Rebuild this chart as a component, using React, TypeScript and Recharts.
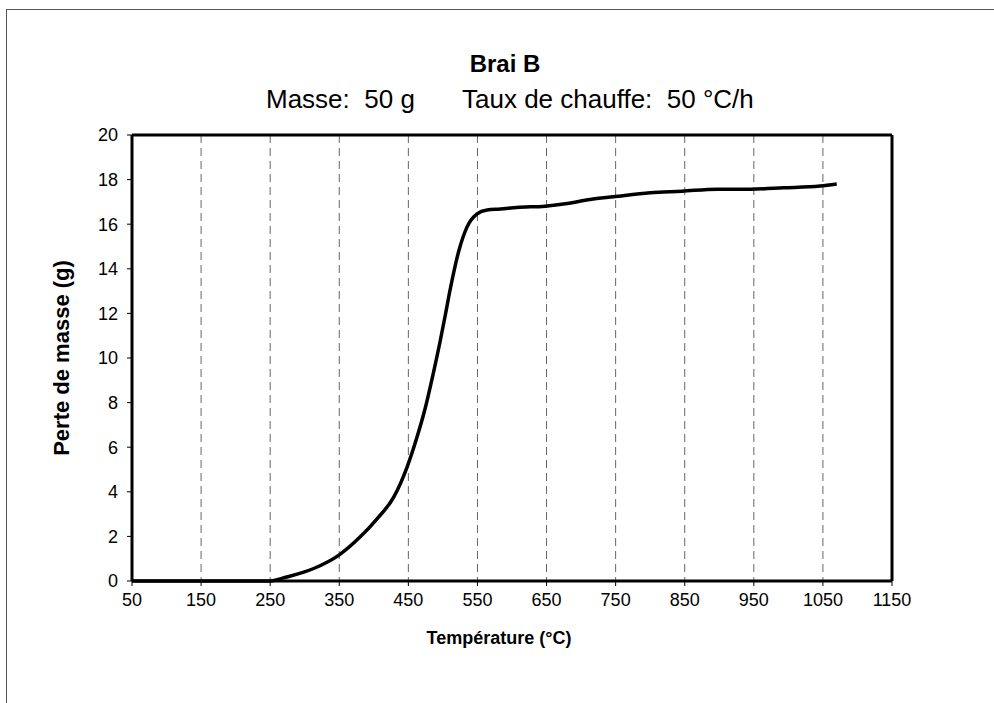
import { CartesianGrid, Line, LineChart, ReferenceLine, XAxis, YAxis } from "recharts";

// Température (°C) et perte de masse (g)
const TEMPERATURE = [
  50, 150, 250, 274, 313, 349, 380, 405, 429, 448, 462, 474, 486, 496, 503, 511, 523, 535, 549, 564,
  583, 607, 648, 680, 713, 747, 800, 846, 897, 945, 993, 1046, 1070,
];
const PERTE = [
  0, 0, 0, 0.18, 0.56, 1.15, 1.97, 2.8, 3.77, 5.1, 6.4, 7.7, 9.3, 10.75, 11.85, 13.15, 14.8, 15.88,
  16.45, 16.64, 16.68, 16.75, 16.81, 16.93, 17.11, 17.23, 17.41, 17.48, 17.57, 17.57, 17.63, 17.71, 17.8,
];
const X_TICKS = [50, 150, 250, 350, 450, 550, 650, 750, 850, 950, 1050, 1150];
const Y_TICKS = [0, 2, 4, 6, 8, 10, 12, 14, 16, 18, 20];

const FONT = "'Liberation Sans', Arial, sans-serif";

const rows = TEMPERATURE.map((t, i) => ({ t, perte: PERTE[i] }));

export default function App() {
  return (
    <div
      style={{
        position: "fixed",
        left: 0,
        top: 0,
        width: 994,
        height: 703,
        background: "#fff",
        overflow: "hidden",
        fontFamily: FONT,
        color: "#000",
      }}
    >
      <div
        style={{
          position: "absolute",
          left: 6,
          top: 9,
          width: 1000,
          height: 720,
          border: "1.5px solid #555",
        }}
      />
      <div style={{ position: "absolute", left: 0, width: 994, top: 50, textAlign: "center", fontSize: 24, fontWeight: 700, paddingLeft: 8 }}>
        Brai B
      </div>
      <div style={{ position: "absolute", left: 266, top: 84, fontSize: 26, whiteSpace: "pre" }}>
        {"Masse:  50 g"}
      </div>
      <div style={{ position: "absolute", left: 462, top: 84, fontSize: 26, whiteSpace: "pre" }}>
        {"Taux de chauffe:  50 °C/h"}
      </div>

      <LineChart
        width={994}
        height={703}
        data={rows}
        margin={{ top: 135, right: 102, bottom: 92, left: 72 }}
        style={{ position: "absolute", left: 0, top: 0 }}
      >
        <CartesianGrid horizontal={false} stroke="#666" strokeDasharray="8 5" />
        <XAxis
          dataKey="t"
          type="number"
          domain={[50, 1150]}
          ticks={X_TICKS}
          height={30}
          tickSize={5}
          tickMargin={7}
          axisLine={{ stroke: "#000", strokeWidth: 3 }}
          tickLine={{ stroke: "#000" }}
          tick={{ fill: "#000", fontSize: 18, fontFamily: FONT }}
          interval={0}
        />
        <YAxis
          type="number"
          domain={[0, 20]}
          ticks={Y_TICKS}
          width={60}
          tickSize={5}
          tickMargin={9}
          axisLine={{ stroke: "#000", strokeWidth: 3 }}
          tickLine={{ stroke: "#000" }}
          tick={{ fill: "#000", fontSize: 18, fontFamily: FONT }}
          interval={0}
        />
        <ReferenceLine y={20} stroke="#000" strokeWidth={3} />
        <ReferenceLine x={1150} stroke="#000" strokeWidth={3} />
        <Line
          type="monotone"
          dataKey="perte"
          stroke="#000"
          strokeWidth={3.5}
          dot={false}
          activeDot={false}
          isAnimationActive={false}
        />
      </LineChart>

      <div
        style={{
          position: "absolute",
          left: 62,
          top: 358,
          transform: "translate(-50%, -50%) rotate(-90deg)",
          fontSize: 22,
          fontWeight: 700,
          whiteSpace: "nowrap",
        }}
      >
        Perte de masse (g)
      </div>
      <div style={{ position: "absolute", left: 0, width: 994, top: 628, textAlign: "center", fontSize: 18, fontWeight: 700, paddingLeft: 2 }}>
        Température (°C)
      </div>
    </div>
  );
}
